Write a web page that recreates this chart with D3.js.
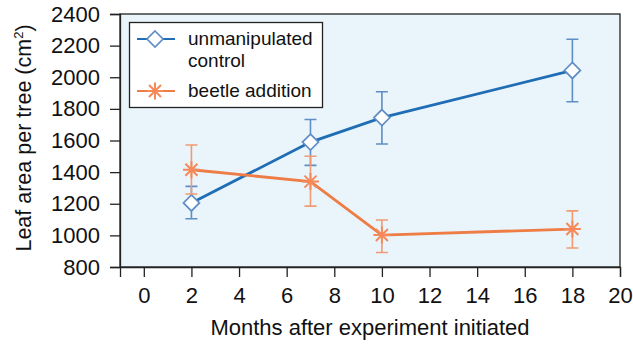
<!DOCTYPE html>
<html><head><meta charset="utf-8">
<script src="https://cdn.jsdelivr.net/npm/d3@7"></script>
<style>body{margin:0;background:#fff}svg{display:block}text{font-family:"Liberation Sans",Arial,sans-serif;fill:#111}</style>
</head><body><div id="chart"></div>
<script>
const months = [2, 7, 10, 18];
const controlMean = [1205, 1590, 1745, 2043];
const controlLow = [1105, 1443, 1578, 1845];
const controlHigh = [1310, 1733, 1908, 2240];
const beetleMean = [1415, 1340, 1002, 1040];
const beetleLow = [1262, 1185, 892, 920];
const beetleHigh = [1572, 1500, 1097, 1155];
const xTicks = [0, 2, 4, 6, 8, 10, 12, 14, 16, 18, 20];
const yTicks = [800, 1000, 1200, 1400, 1600, 1800, 2000, 2200, 2400];
const seriesNames = ["unmanipulated", "control", "beetle addition"];

const W = 633, H = 344;
const m = {l: 120, r: 13, t: 14, b: 77};
const svg = d3.select("#chart").append("svg").attr("width", W).attr("height", H);
const x = d3.scaleLinear().domain([-1, 20]).range([m.l, W - m.r]);
const y = d3.scaleLinear().domain([800, 2400]).range([H - m.b, m.t]);

svg.append("rect").attr("x", x(-1)).attr("y", y(2400)).attr("width", x(20) - x(-1)).attr("height", y(800) - y(2400))
  .attr("fill", "#eaf5fb").attr("stroke", "#222").attr("stroke-width", 1.3);

const fs = 22;
const yAxis = svg.append("g").attr("transform", `translate(${x(-1)},0)`)
  .call(d3.axisLeft(y).tickValues(yTicks).tickSize(10).tickPadding(10).tickFormat(d3.format("d")));
const xAxis = svg.append("g").attr("transform", `translate(0,${y(800)})`)
  .call(d3.axisBottom(x).tickValues(xTicks).tickSize(10).tickPadding(10).tickFormat(d3.format("d")));
[xAxis, yAxis].forEach(a => {
  a.select(".domain").attr("stroke", "#222").attr("stroke-width", 1.3);
  a.selectAll(".tick line").attr("stroke", "#222").attr("stroke-width", 1.3);
  a.selectAll(".tick text").attr("font-size", fs).attr("font-family", "Liberation Sans, Arial, sans-serif").attr("fill", "#111");
});

svg.append("text").attr("x", (x(-1) + x(20)) / 2).attr("y", 335).attr("text-anchor", "middle").attr("font-size", 22)
  .text("Months after experiment initiated");
const yt = svg.append("text").attr("transform", `translate(31,138) rotate(-90)`).attr("text-anchor", "middle").attr("font-size", 21.5);
yt.append("tspan").text("Leaf area per tree (cm");
yt.append("tspan").attr("font-size", 13).attr("dy", -8).text("2");
yt.append("tspan").attr("dy", 8).text(")");

const blueLine = "#1f6db4", blueErr = "#5f8dc6", orangeLine = "#ee7c45", orangeErr = "#f29a72";

function drawSeries(mean, low, high, lineColor, errColor, marker) {
  const g = svg.append("g");
  const pts = months.map((mo, i) => ({mo, v: mean[i], lo: low[i], hi: high[i]}));
  g.selectAll(".err").data(pts).join("path").attr("fill", "none").attr("stroke", errColor).attr("stroke-width", 1.6)
    .attr("d", d => `M${x(d.mo)},${y(d.lo)}V${y(d.hi)}M${x(d.mo) - 6},${y(d.lo)}h12M${x(d.mo) - 6},${y(d.hi)}h12`);
  g.append("path").datum(pts).attr("fill", "none").attr("stroke", lineColor).attr("stroke-width", 2.8)
    .attr("d", d3.line().x(d => x(d.mo)).y(d => y(d.v)));
  g.selectAll(".mk").data(pts).join("g").attr("transform", d => `translate(${x(d.mo)},${y(d.v)})`)
    .each(function() { marker(d3.select(this)); });
}
function diamond(s) {
  s.append("path").attr("d", "M0,-8L8,0L0,8L-8,0Z").attr("fill", "#fff").attr("stroke", blueErr).attr("stroke-width", 1.7);
}
function star(s) {
  const r = 8.5;
  let d = "";
  for (let k = 0; k < 4; k++) {
    const a = k * Math.PI / 4;
    d += `M${-r * Math.cos(a)},${-r * Math.sin(a)}L${r * Math.cos(a)},${r * Math.sin(a)}`;
  }
  s.append("path").attr("d", d).attr("stroke", "#f5895a").attr("stroke-width", 2);
}
drawSeries(controlMean, controlLow, controlHigh, blueLine, blueErr, diamond);
drawSeries(beetleMean, beetleLow, beetleHigh, orangeLine, orangeErr, star);

// legend
const lg = svg.append("g");
lg.append("rect").attr("x", 129.5).attr("y", 22.5).attr("width", 193).attr("height", 85).attr("fill", "#fff").attr("stroke", "#222").attr("stroke-width", 1.3);
const l1 = lg.append("g");
l1.append("line").attr("x1", 137).attr("x2", 175).attr("y1", 39).attr("y2", 39).attr("stroke", blueLine).attr("stroke-width", 2.2);
diamond(l1.append("g").attr("transform", "translate(155,39)"));
lg.append("text").attr("x", 188).attr("y", 45).attr("font-size", 19).text(seriesNames[0]);
lg.append("text").attr("x", 188).attr("y", 67).attr("font-size", 19).text(seriesNames[1]);
const l2 = lg.append("g");
l2.append("line").attr("x1", 137).attr("x2", 175).attr("y1", 91).attr("y2", 91).attr("stroke", orangeLine).attr("stroke-width", 2.2);
star(l2.append("g").attr("transform", "translate(155,91)"));
lg.append("text").attr("x", 188).attr("y", 97).attr("font-size", 19).text(seriesNames[2]);
</script></body></html>
